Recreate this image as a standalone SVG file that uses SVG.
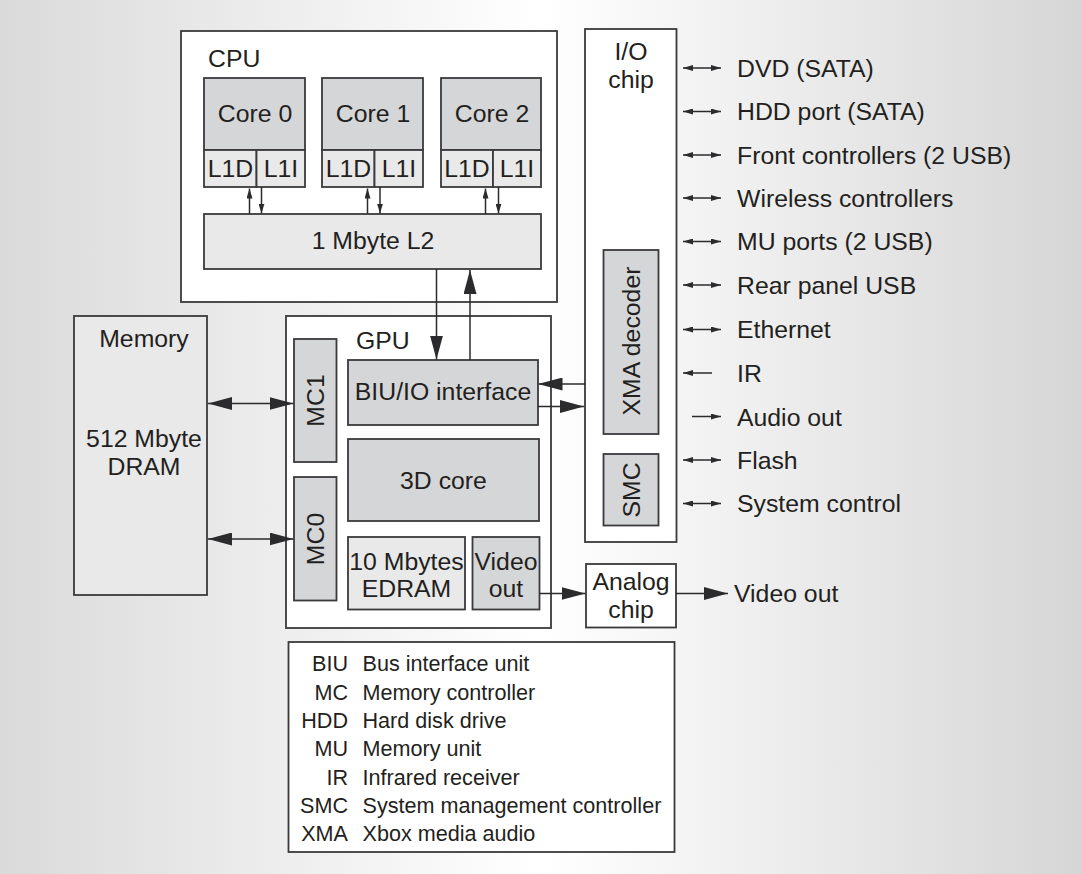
<svg xmlns="http://www.w3.org/2000/svg" width="1081" height="874" viewBox="0 0 1081 874">
<defs>
<linearGradient id="bg" x1="0" y1="0" x2="1" y2="0">
<stop offset="0" stop-color="#dadada"/>
<stop offset="0.5" stop-color="#ffffff"/>
<stop offset="1" stop-color="#d6d6d6"/>
</linearGradient>
<marker id="big" viewBox="0 0 24 13" markerWidth="24" markerHeight="13" refX="24" refY="6.5" orient="auto-start-reverse" markerUnits="userSpaceOnUse">
<path d="M0,0 L24,6.5 L0,13 z" fill="#2b2b2e"/>
</marker>
<marker id="sm" viewBox="0 0 10 6" markerWidth="10" markerHeight="6" refX="10" refY="3" orient="auto-start-reverse" markerUnits="userSpaceOnUse">
<path d="M0,0 L10,3 L0,6 z" fill="#2b2b2e"/>
</marker>
</defs>
<style>
text{font-family:"Liberation Sans",Arial,Helvetica,sans-serif;fill:#231f20;font-size:24.8px}
.c{text-anchor:middle}
.box{fill:#ffffff;stroke:#3a3a3c;stroke-width:1.8}
.dk{fill:#d5d6d8;stroke:#3a3a3c;stroke-width:1.8}
.lt{fill:#e9e9ea;stroke:#3a3a3c;stroke-width:1.8}
.ln{stroke:#2b2b2e;stroke-width:1.5;fill:none}
.lg{font-size:21.6px}
.r{text-anchor:end}
</style>
<rect x="0" y="0" width="1081" height="874" fill="url(#bg)"/>

<g id="cpu">
<rect class="box" x="181" y="31" width="376" height="271"/>
<text x="208" y="67">CPU</text>
</g>
<g id="core0">
<rect class="dk" x="204" y="78" width="101" height="72"/>
<text class="c" x="255" y="122">Core 0</text>
<rect class="lt" x="204" y="150" width="52.5" height="37"/>
<rect class="lt" x="256.5" y="150" width="48.5" height="37"/>
<text class="c" x="230.5" y="177">L1D</text>
<text class="c" x="281" y="177">L1I</text>
</g>
<g id="core1">
<rect class="dk" x="322" y="78" width="101" height="72"/>
<text class="c" x="373" y="122">Core 1</text>
<rect class="lt" x="322" y="150" width="52.5" height="37"/>
<rect class="lt" x="374.5" y="150" width="48.5" height="37"/>
<text class="c" x="348.5" y="177">L1D</text>
<text class="c" x="399" y="177">L1I</text>
</g>
<g id="core2">
<rect class="dk" x="441" y="78" width="100" height="72"/>
<text class="c" x="492" y="122">Core 2</text>
<rect class="lt" x="441" y="150" width="52" height="37"/>
<rect class="lt" x="493" y="150" width="48" height="37"/>
<text class="c" x="467" y="177">L1D</text>
<text class="c" x="517" y="177">L1I</text>
</g>
<g id="l2">
<rect class="lt" x="204" y="214" width="337" height="55"/>
<text class="c" x="373" y="249">1 Mbyte L2</text>
</g>

<g id="memory">
<rect class="lt" x="74" y="316" width="133" height="279"/>
<text class="c" x="144" y="347">Memory</text>
<text class="c" x="144" y="447">512 Mbyte</text>
<text class="c" x="144" y="475">DRAM</text>
</g>

<g id="gpu">
<rect class="box" x="286" y="316" width="265" height="312"/>
<text x="356" y="349">GPU</text>
</g>
<g id="mc1">
<rect class="dk" x="294" y="339" width="42.5" height="123"/>
<text class="c" transform="translate(324,400.5) rotate(-90)">MC1</text>
</g>
<g id="mc0">
<rect class="dk" x="294" y="477" width="42.5" height="123.5"/>
<text class="c" transform="translate(324,539) rotate(-90)">MC0</text>
</g>
<g id="biu">
<rect class="dk" x="348" y="360" width="190" height="65"/>
<text class="c" x="443" y="400">BIU/IO interface</text>
</g>
<g id="core3d">
<rect class="dk" x="348" y="439" width="191" height="82"/>
<text class="c" x="443.5" y="489">3D core</text>
</g>
<g id="edram">
<rect class="lt" x="348" y="537" width="117" height="72.5"/>
<text class="c" x="406.5" y="570">10 Mbytes</text>
<text class="c" x="406.5" y="597">EDRAM</text>
</g>
<g id="videoout">
<rect class="dk" x="472.5" y="537" width="67" height="72.5"/>
<text class="c" x="506" y="570">Video</text>
<text class="c" x="506" y="597">out</text>
</g>

<g id="iochip">
<rect class="box" x="585" y="29" width="91.5" height="513"/>
<text class="c" x="631" y="60">I/O</text>
<text class="c" x="631" y="88">chip</text>
</g>
<g id="xma">
<rect class="dk" x="603.5" y="250" width="55" height="184"/>
<text class="c" transform="translate(639.5,341) rotate(-90)">XMA decoder</text>
</g>
<g id="smc">
<rect class="dk" x="603.5" y="454" width="55" height="71.5"/>
<text class="c" transform="translate(639.5,490) rotate(-90)">SMC</text>
</g>

<g id="analog">
<rect class="box" x="586" y="564" width="90" height="63.5"/>
<text class="c" x="631" y="590">Analog</text>
<text class="c" x="631" y="618">chip</text>
</g>

<g id="labels">
<text x="737" y="77">DVD (SATA)</text>
<text x="737" y="120">HDD port (SATA)</text>
<text x="737" y="163.5">Front controllers (2 USB)</text>
<text x="737" y="207">Wireless controllers</text>
<text x="737" y="250">MU ports (2 USB)</text>
<text x="737" y="293.5">Rear panel USB</text>
<text x="737" y="338">Ethernet</text>
<text x="737" y="381.5">IR</text>
<text x="737" y="425.5">Audio out</text>
<text x="737" y="469">Flash</text>
<text x="737" y="512">System control</text>
<text x="734" y="602">Video out</text>
</g>

<g id="legend">
<rect class="box" x="288.5" y="642" width="386" height="210"/>
<text class="lg r" x="348" y="671">BIU</text><text class="lg" x="362.5" y="671">Bus interface unit</text>
<text class="lg r" x="348" y="699.5">MC</text><text class="lg" x="362.5" y="699.5">Memory controller</text>
<text class="lg r" x="348" y="728">HDD</text><text class="lg" x="362.5" y="728">Hard disk drive</text>
<text class="lg r" x="348" y="756">MU</text><text class="lg" x="362.5" y="756">Memory unit</text>
<text class="lg r" x="348" y="784.5">IR</text><text class="lg" x="362.5" y="784.5">Infrared receiver</text>
<text class="lg r" x="348" y="813">SMC</text><text class="lg" x="362.5" y="813">System management controller</text>
<text class="lg r" x="348" y="841">XMA</text><text class="lg" x="362.5" y="841">Xbox media audio</text>
</g>

<g id="connectors">
<line class="ln" x1="249.5" y1="214" x2="249.5" y2="188.5" marker-end="url(#sm)"/>
<line class="ln" x1="261.5" y1="187" x2="261.5" y2="213.5" marker-end="url(#sm)"/>
<line class="ln" x1="367.5" y1="214" x2="367.5" y2="188.5" marker-end="url(#sm)"/>
<line class="ln" x1="380" y1="187" x2="380" y2="213.5" marker-end="url(#sm)"/>
<line class="ln" x1="485.5" y1="214" x2="485.5" y2="188.5" marker-end="url(#sm)"/>
<line class="ln" x1="498.5" y1="187" x2="498.5" y2="213.5" marker-end="url(#sm)"/>

<line class="ln" x1="436.5" y1="269" x2="436.5" y2="359.5" marker-end="url(#big)"/>
<line class="ln" x1="470" y1="360" x2="470" y2="270" marker-end="url(#big)"/>

<line class="ln" x1="208" y1="403.5" x2="293.5" y2="403.5" marker-start="url(#big)" marker-end="url(#big)"/>
<line class="ln" x1="208" y1="539" x2="293.5" y2="539" marker-start="url(#big)" marker-end="url(#big)"/>

<line class="ln" x1="585" y1="384" x2="538.5" y2="384" marker-end="url(#big)"/>
<line class="ln" x1="538" y1="406.5" x2="584" y2="406.5" marker-end="url(#big)"/>
<line class="ln" x1="539.5" y1="593.5" x2="585.5" y2="593.5" marker-end="url(#big)"/>
<line class="ln" x1="676" y1="593.5" x2="728" y2="593.5" marker-end="url(#big)"/>

<line class="ln" x1="683" y1="68" x2="721" y2="68" marker-start="url(#sm)" marker-end="url(#sm)"/>
<line class="ln" x1="683" y1="111.5" x2="721" y2="111.5" marker-start="url(#sm)" marker-end="url(#sm)"/>
<line class="ln" x1="683" y1="155" x2="721" y2="155" marker-start="url(#sm)" marker-end="url(#sm)"/>
<line class="ln" x1="683" y1="198" x2="721" y2="198" marker-start="url(#sm)" marker-end="url(#sm)"/>
<line class="ln" x1="683" y1="241.5" x2="721" y2="241.5" marker-start="url(#sm)" marker-end="url(#sm)"/>
<line class="ln" x1="683" y1="285" x2="721" y2="285" marker-start="url(#sm)" marker-end="url(#sm)"/>
<line class="ln" x1="683" y1="329.5" x2="721" y2="329.5" marker-start="url(#sm)" marker-end="url(#sm)"/>
<line class="ln" x1="712" y1="373" x2="683" y2="373" marker-end="url(#sm)"/>
<line class="ln" x1="692" y1="416.5" x2="721" y2="416.5" marker-end="url(#sm)"/>
<line class="ln" x1="683" y1="460" x2="721" y2="460" marker-start="url(#sm)" marker-end="url(#sm)"/>
<line class="ln" x1="683" y1="503.5" x2="721" y2="503.5" marker-start="url(#sm)" marker-end="url(#sm)"/>
</g>
</svg>
